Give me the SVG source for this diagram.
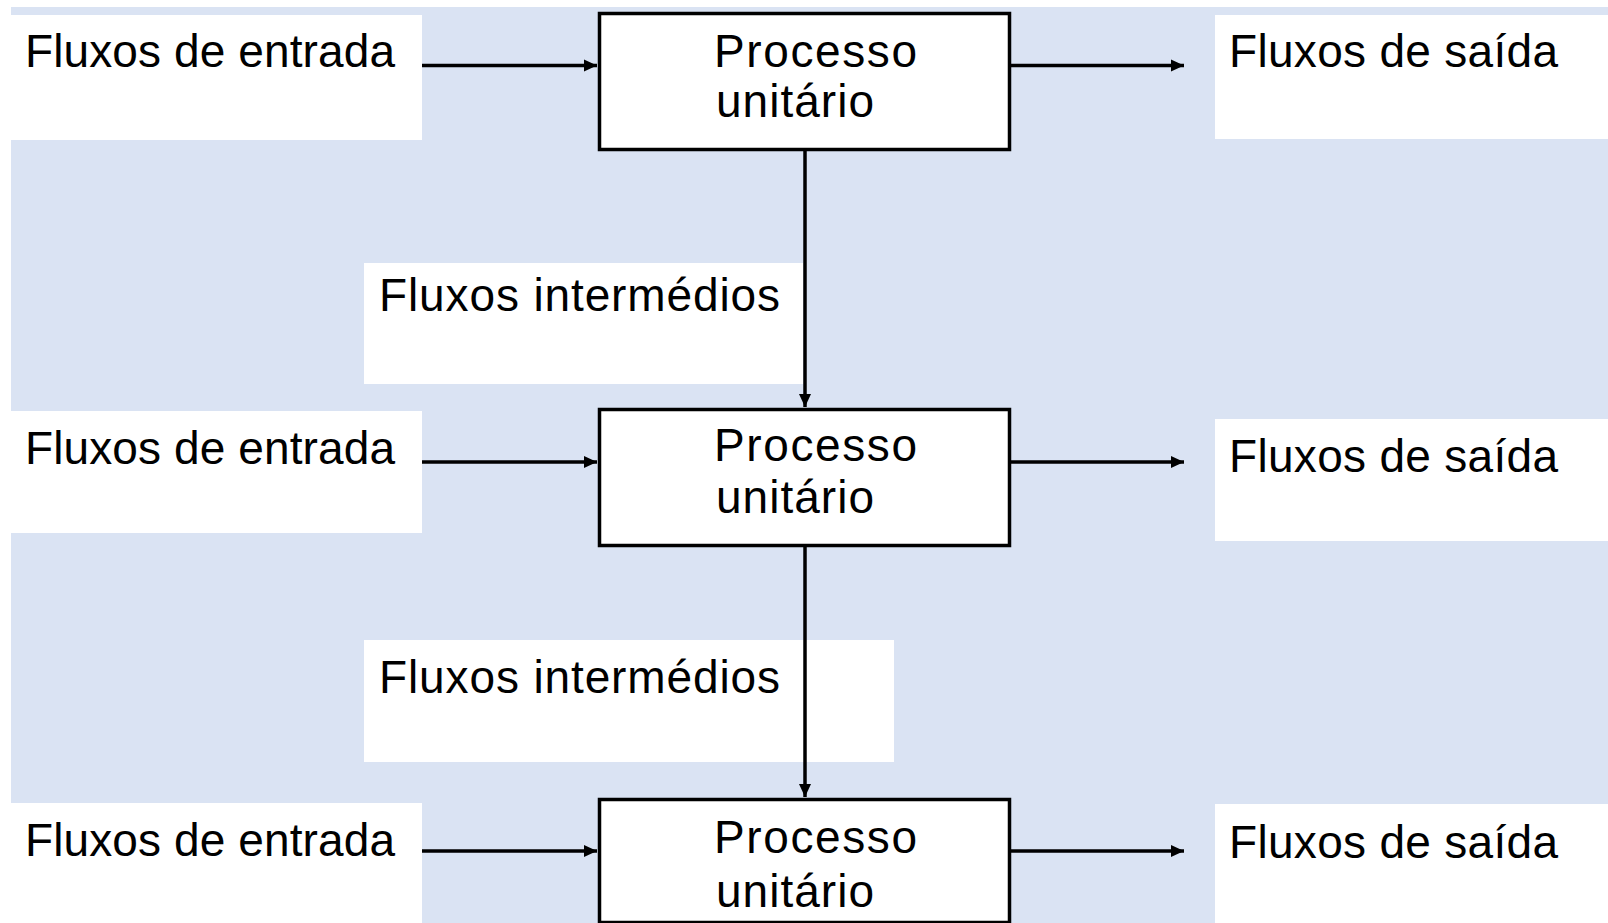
<svg xmlns="http://www.w3.org/2000/svg" width="1608" height="923" viewBox="0 0 1608 923">
  <style>
    .bg { fill: #DAE3F3; }
    .lbl { fill: #FFFFFF; }
    .proc { fill: #FFFFFF; stroke: #000000; stroke-width: 3.5; }
    .t { font-family: "Liberation Sans", Arial, sans-serif; font-size: 46px; fill: #000000; }
    .conn { stroke: #000000; stroke-width: 3.5; fill: none; marker-end: url(#arr); }
  </style>
  <defs>
    <marker id="arr" markerUnits="userSpaceOnUse" markerWidth="14" markerHeight="14" refX="13" refY="7" orient="auto">
      <path d="M0,1 L13,7 L0,13 z" fill="#000000"/>
    </marker>
  </defs>
  <rect x="0" y="0" width="1608" height="923" fill="#FFFFFF"/>
  <rect class="bg" x="11" y="7" width="1597" height="916"/>

  <g id="entrada1"><rect class="lbl" x="11" y="15" width="411" height="125"/><text class="t" x="25" y="67" textLength="370">Fluxos de entrada</text></g>
  <g id="entrada2"><rect class="lbl" x="11" y="411" width="411" height="122"/><text class="t" x="25" y="464" textLength="370">Fluxos de entrada</text></g>
  <g id="entrada3"><rect class="lbl" x="11" y="803" width="411" height="120"/><text class="t" x="25" y="856" textLength="370">Fluxos de entrada</text></g>

  <g id="saida1"><rect class="lbl" x="1215" y="15" width="393" height="124"/><text class="t" x="1229" y="67" textLength="329">Fluxos de saída</text></g>
  <g id="saida2"><rect class="lbl" x="1215" y="419" width="393" height="122"/><text class="t" x="1229" y="472" textLength="329">Fluxos de saída</text></g>
  <g id="saida3"><rect class="lbl" x="1215" y="804" width="393" height="119"/><text class="t" x="1229" y="858" textLength="329">Fluxos de saída</text></g>

  <g id="intermedios1"><rect class="lbl" x="364" y="263" width="439" height="121"/><text class="t" x="379" y="311" textLength="401">Fluxos intermédios</text></g>
  <g id="intermedios2"><rect class="lbl" x="364" y="640" width="530" height="122"/><text class="t" x="379" y="693" textLength="401">Fluxos intermédios</text></g>

  <g id="processo1"><rect class="proc" x="599.5" y="13.5" width="410" height="136"/><text class="t" x="714" y="67" textLength="203">Processo</text><text class="t" x="716" y="117" textLength="158">unitário</text></g>
  <g id="processo2"><rect class="proc" x="599.5" y="409.5" width="410" height="136"/><text class="t" x="714" y="461" textLength="203">Processo</text><text class="t" x="716" y="513" textLength="158">unitário</text></g>
  <g id="processo3"><rect class="proc" x="599.5" y="799.5" width="410" height="123"/><text class="t" x="714" y="853" textLength="203">Processo</text><text class="t" x="716" y="907" textLength="158">unitário</text></g>

  <g id="connectors">
    <line class="conn" x1="422" y1="65.5" x2="597" y2="65.5"/>
    <line class="conn" x1="1011" y1="65.5" x2="1184" y2="65.5"/>
    <line class="conn" x1="422" y1="462" x2="597" y2="462"/>
    <line class="conn" x1="1011" y1="462" x2="1184" y2="462"/>
    <line class="conn" x1="422" y1="851" x2="597" y2="851"/>
    <line class="conn" x1="1011" y1="851" x2="1184" y2="851"/>
    <line class="conn" x1="805" y1="151" x2="805" y2="407"/>
    <line class="conn" x1="805" y1="547" x2="805" y2="797"/>
  </g>
</svg>
